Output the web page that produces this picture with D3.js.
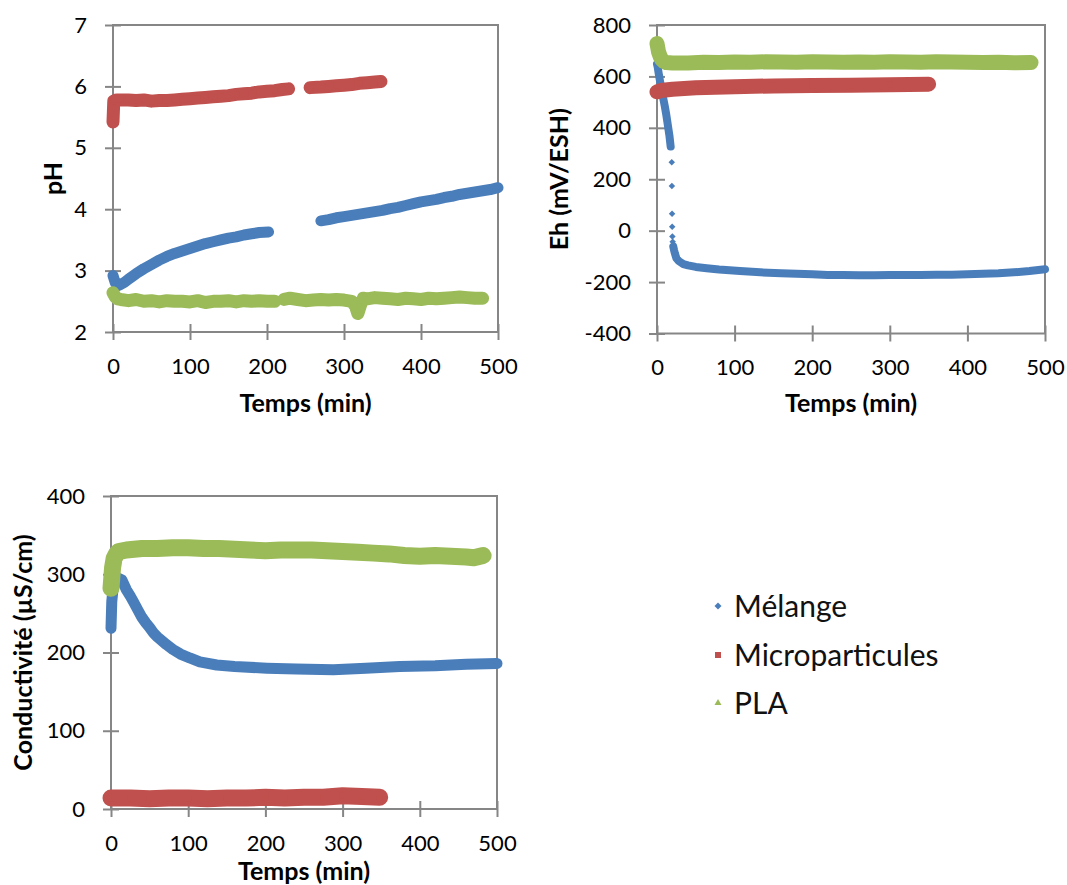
<!DOCTYPE html>
<html><head><meta charset="utf-8">
<script src="https://cdn.jsdelivr.net/npm/d3@7"></script>
<style>body{margin:0;background:#fff}svg{display:block}</style>
</head><body>
<svg id="c" width="1067" height="885"></svg>
<script>
// ---------- labels / categories ----------
const seriesNames = ["Mélange", "Microparticules", "PLA"];
const seriesColors = ["#4A7EBB", "#C0504D", "#9BBB59"];
const timeTicks = [0, 100, 200, 300, 400, 500];
const phTicks = [2, 3, 4, 5, 6, 7];
const ehTicks = [-400, -200, 0, 200, 400, 600, 800];
const condTicks = [0, 100, 200, 300, 400];
const xTitle = "Temps (min)";
const yTitles = ["pH", "Eh (mV/ESH)", "Conductivité (µS/cm)"];

// ---------- pH ----------
const phMelangeT = [0,3,8,15,20,30,40,50,60,70,80,90,100,110,120,130,140,150,160,170,180,190,202,240,270,280,290,300,310,320,330,340,350,360,370,380,390,400,410,420,430,440,450,460,470,480,490,500];
const phMelangeV = [2.92,2.80,2.76,2.81,2.86,2.95,3.03,3.10,3.17,3.23,3.28,3.32,3.36,3.40,3.44,3.47,3.50,3.53,3.55,3.58,3.60,3.62,3.63,null,3.81,3.83,3.86,3.88,3.90,3.92,3.94,3.96,3.98,4.01,4.03,4.06,4.09,4.12,4.14,4.16,4.19,4.21,4.24,4.26,4.28,4.30,4.32,4.35];
const phMicroT = [0,1,5,10,20,30,40,50,60,70,80,90,100,110,120,130,140,150,160,170,180,190,200,210,220,228,243,256,270,280,290,300,310,320,330,340,348];
const phMicroV = [5.42,5.76,5.78,5.78,5.78,5.77,5.78,5.76,5.77,5.77,5.78,5.79,5.80,5.81,5.82,5.83,5.84,5.85,5.87,5.88,5.89,5.91,5.92,5.93,5.95,5.96,null,5.98,5.99,6.00,6.01,6.02,6.03,6.05,6.06,6.07,6.08];
const phPlaT = [0,3,6,10,20,30,40,50,60,70,80,90,100,110,120,130,140,150,160,170,180,190,200,210,216,222,230,240,250,260,270,280,290,300,310,315,318,321,325,330,340,350,360,370,380,390,400,410,420,430,440,450,460,470,480];
const phPlaV = [2.64,2.57,2.54,2.53,2.51,2.53,2.50,2.51,2.49,2.51,2.50,2.50,2.49,2.51,2.48,2.50,2.50,2.51,2.49,2.51,2.50,2.51,2.50,2.50,null,2.53,2.55,2.53,2.51,2.52,2.53,2.52,2.53,2.52,2.50,2.42,2.30,2.42,2.55,2.54,2.56,2.55,2.54,2.53,2.55,2.54,2.53,2.55,2.54,2.55,2.56,2.57,2.56,2.55,2.55];

// ---------- Eh ----------
const ehMelangeT = [0,1,2,4,6,8,10,12,14,16,17.6,18.5,21,22,23,25,28,34,40,50,64,80,107,133,160,200,220,240,260,280,300,320,340,360,380,400,420,440,460,480,500];
const ehMelangeV = [648,635,615,580,547,515,485,450,410,370,327,null,-62,-76,-88,-107,-118,-130,-135,-141,-146,-151,-157,-162,-166,-170,-172,-172,-173,-173,-172,-172,-172,-171,-171,-170,-168,-166,-162,-157,-150];
const ehMelangeDropT = [19.0,19.2,19.4,19.6,19.8,20.2];
const ehMelangeDropV = [266,174,66,15,-23,-43];
const ehMicroT = [0,5,20,50,100,150,200,250,300,350];
const ehMicroV = [540,545,550,556,560,563,565,566,568,570];
const ehPlaT = [0,1,2,4,6,9,12,20,40,60,80,100,120,140,160,180,200,220,240,260,280,300,320,340,360,380,400,420,440,460,482];
const ehPlaV = [728,712,695,678,666,658,654,652,652,655,654,656,655,657,656,655,657,656,655,656,655,657,656,655,657,656,655,654,655,653,654];

// ---------- Conductivité ----------
const condMelangeT = [0,1,3,5,9,14,20,25,29,35,40,45,50,55,60,72,80,90,102,115,137,160,202,240,288,330,374,420,460,500];
const condMelangeV = [231,265,285,293,295,293,280,272,265,254,245,238,232,225,220,210,204,198,193,188,184,182,180,179,178,180,182,183,185,186];
const condMicroT = [0,25,50,75,100,125,150,175,200,225,250,275,300,325,348];
const condMicroV = [14,14,13,14,14,13,14,14,15,14,15,15,17,16,15];
const condPlaT = [0,1,2,4,7,10,20,40,60,80,100,120,140,160,180,200,220,240,260,280,300,320,340,360,380,400,420,440,460,470,482];
const condPlaV = [282,295,308,320,326,329,331,333,333,334,334,333,333,332,331,330,331,331,331,330,329,328,327,326,324,323,324,323,322,321,324];

// ---------- drawing ----------
const svg = d3.select("#c");
const AXIS = "#868686";
const FONT = "Lato, 'Open Sans', sans-serif";

const panels = [
  { box: [113, 498, 25, 332], dom: [2, 7], ticks: phTicks, title: yTitles[0], titleX: 62, xTitleY: 412,
    series: [
      { t: phMelangeT, v: phMelangeV, w: 11, i: 0 },
      { t: phMicroT, v: phMicroV, w: 13, i: 1 },
      { t: phPlaT, v: phPlaV, w: 13, i: 2 } ] },
  { box: [657, 1045, 25, 333.5], dom: [-400, 800], ticks: ehTicks, title: yTitles[1], titleX: 568, xTitleY: 412,
    series: [
      { t: ehMelangeT, v: ehMelangeV, w: 8, i: 0 },
      { t: ehMicroT, v: ehMicroV, w: 15, i: 1 },
      { t: ehPlaT, v: ehPlaV, w: 15, i: 2 } ],
    dots: [{ t: ehMelangeDropT, v: ehMelangeDropV, i: 0 }] },
  { box: [111, 497, 496, 809], dom: [0, 400], ticks: condTicks, title: yTitles[2], titleX: 32, xTitleY: 880,
    series: [
      { t: condMelangeT, v: condMelangeV, w: 11, i: 0 },
      { t: condMicroT, v: condMicroV, w: 17, i: 1 },
      { t: condPlaT, v: condPlaV, w: 17, i: 2 } ] }
];

function marker(i, s) {
  if (i === 0) return d3.symbol(d3.symbolSquare, s * s / 2)(); // rotated 45° later -> diamond
  if (i === 1) return d3.symbol(d3.symbolSquare, s * s)();
  return d3.symbol(d3.symbolTriangle, s * s * 0.6)();
}

panels.forEach(p => {
  const [x0, x1, y0, y1] = p.box;
  const x = d3.scaleLinear().domain([0, 500]).range([x0, x1]);
  const y = d3.scaleLinear().domain(p.dom).range([y1, y0]);
  const g = svg.append("g");

  g.append("rect").attr("x", x0).attr("y", y0).attr("width", x1 - x0).attr("height", y1 - y0)
    .attr("fill", "none").attr("stroke", AXIS).attr("stroke-width", 2);

  const ya = g.append("g").attr("transform", `translate(${x0},0)`)
    .call(d3.axisLeft(y).tickValues(p.ticks).tickSizeInner(8).tickSizeOuter(0).tickPadding(18).tickFormat(d3.format("d")));
  const xa = g.append("g").attr("transform", `translate(0,${y1})`)
    .call(d3.axisBottom(x).tickValues(timeTicks).tickSizeInner(8).tickSizeOuter(0).tickPadding(18));
  [ya, xa].forEach(a => {
    a.select(".domain").remove();
    a.selectAll("line").attr("stroke", AXIS).attr("stroke-width", 2);
    a.selectAll("text").attr("fill", "#000").style("font-family", FONT).style("font-size", "22px");
  });
  ya.selectAll("line").attr("x1", 8);
  xa.selectAll("line").attr("y1", -8);
  ya.selectAll("text").text(d => d < 0 ? "-" + Math.abs(d) : d);

  const line = d3.line().defined(d => d[1] != null).x(d => x(d[0])).y(d => y(d[1]));
  p.series.forEach(s => {
    const data = s.t.map((t, k) => [t, s.v[k]]);
    g.append("path").datum(data).attr("d", line).attr("fill", "none")
      .attr("stroke", seriesColors[s.i]).attr("stroke-width", s.w)
      .attr("stroke-linejoin", "round").attr("stroke-linecap", "round");
    g.append("g").selectAll("path").data(data.filter(d => d[1] != null)).join("path")
      .attr("d", marker(s.i, 6))
      .attr("transform", d => `translate(${x(d[0])},${y(d[1])})` + (s.i === 0 ? " rotate(45)" : ""))
      .attr("fill", seriesColors[s.i]);
  });
  (p.dots || []).forEach(s => {
    const data = s.t.map((t, k) => [t, s.v[k]]);
    g.append("g").selectAll("path").data(data).join("path")
      .attr("d", marker(s.i, 6.5))
      .attr("transform", d => `translate(${x(d[0])},${y(d[1])}) rotate(45)`)
      .attr("fill", seriesColors[s.i]);
  });

  g.append("text").attr("x", (x0 + x1) / 2).attr("y", p.xTitleY).attr("text-anchor", "middle")
    .style("font-family", FONT).style("font-size", "25px").style("font-weight", "bold").text(xTitle);
  g.append("text").attr("transform", `translate(${p.titleX},${(y0 + y1) / 2}) rotate(-90)`)
    .attr("text-anchor", "middle")
    .style("font-family", FONT).style("font-size", "25px").style("font-weight", "bold").text(p.title);
});

// legend
const legendY = [606, 655, 703];
const lg = svg.append("g");
seriesNames.forEach((n, i) => {
  lg.append("path").attr("d", marker(i, i === 0 ? 7 : 6))
    .attr("transform", `translate(718,${legendY[i]})` + (i === 0 ? " rotate(45)" : ""))
    .attr("fill", seriesColors[i]);
  lg.append("text").attr("x", 734).attr("y", legendY[i]).attr("dy", "0.36em")
    .style("font-family", FONT).style("font-size", "30px").attr("fill", "#111").text(n);
});
</script>
</body></html>
